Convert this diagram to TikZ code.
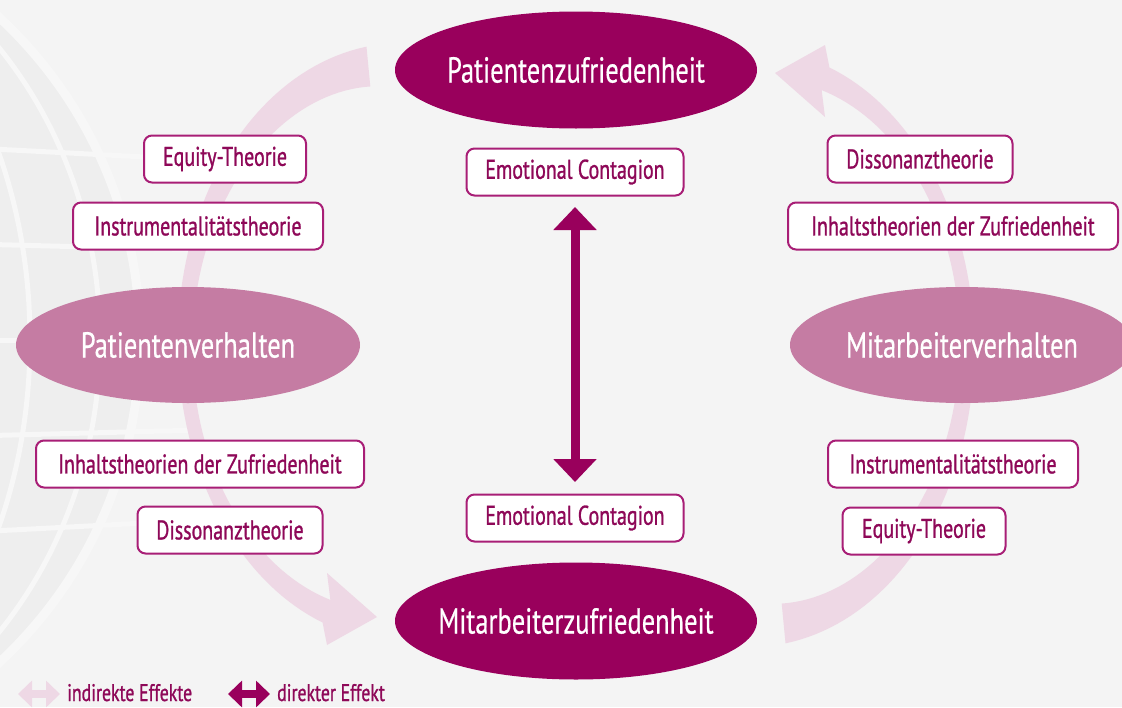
\documentclass[tikz,border=0pt]{standalone}
\usepackage{fontspec}
\setmainfont{PT Sans}[FakeStretch=0.74]
\newfontfamily\boxfont{PT Sans}[FakeStretch=0.74,FakeBold=1.0]
\newfontfamily\ellfont{PT Sans}[FakeStretch=0.735,FakeBold=0.5]
\usetikzlibrary{shapes.geometric,arrows.meta}
\definecolor{bg}{RGB}{244,244,244}
\definecolor{globecell}{RGB}{238,238,238}
\definecolor{globeline}{RGB}{247,247,247}
\definecolor{dark}{RGB}{153,0,92}
\definecolor{mid}{RGB}{197,124,163}
\definecolor{pale}{RGB}{238,216,229}
\definecolor{boxline}{RGB}{168,30,118}
\definecolor{boxtext}{RGB}{142,8,88}
\tikzset{
  theory/.style={draw=boxline, line width=2pt, fill=white, rounded corners=8pt,
    minimum height=47pt, inner sep=0pt, text=boxtext,
    font=\boxfont\fontsize{27}{30}\selectfont},
  mainell/.style={ellipse, fill=dark, text=white, minimum width=362pt,
    minimum height=117pt, inner sep=0pt, font=\ellfont\fontsize{36}{40}\selectfont},
  sideell/.style={ellipse, fill=mid, text=white, minimum width=344pt,
    minimum height=116pt, inner sep=0pt, font=\ellfont\fontsize{36}{40}\selectfont},
  legendtext/.style={text=boxtext, font=\boxfont\fontsize{24}{28}\selectfont,
    anchor=base west, inner sep=0pt},
  direct/.style={draw=dark, line width=9pt,
    {Triangle[width=42pt,length=23pt]}-{Triangle[width=42pt,length=23pt]}},
  legarrow/.style={line width=8pt,
    {Triangle[width=26pt,length=14pt]}-{Triangle[width=26pt,length=14pt]}},
  gline/.style={draw=globeline, line width=5pt}
}
\begin{document}
\begin{tikzpicture}[x=1pt,y=-1pt]
\fill[bg] (0,0) rectangle (1122,707);
\useasboundingbox (0,0) rectangle (1122,707);

% faint globe decoration
\begin{scope}
  \clip (0,0) rectangle (1122,707);
  \fill[globecell] (-300,340) circle (440);
  \draw[globeline, line width=9pt] (-300,340) circle (440);
  \draw[gline] (-300,340) ellipse (330 and 440);
  \draw[gline] (-300,340) ellipse (400 and 440);
  \draw[gline] (-300,340) ellipse (230 and 440);
  \foreach \yy in {-180,-90,0,90,180} {
    \draw[gline] (-300,340) ++(0,\yy) ++(-500,0) .. controls (-300,340+1.15*\yy) .. ++(1000,0);
  }
\end{scope}

% indirect effect arcs (tapering band, point-symmetric pair)
\fill[pale] plot[domain=0:1, samples=80, variable=\t]
   ({390+(205+(20-42*\t+34*\t*\t))*cos(96+156*\t)}, {345-(280+(20-42*\t+34*\t*\t))*sin(96+156*\t)})
   -- (327,645) -- (377,617) -- (327,573)
   -- plot[domain=1:0, samples=80, variable=\t]
   ({390+(205-(20-42*\t+34*\t*\t))*cos(96+156*\t)}, {345-(280-(20-42*\t+34*\t*\t))*sin(96+156*\t)})
   -- cycle;
\begin{scope}[rotate around={180:(576,345)}]
\fill[pale] plot[domain=0:1, samples=80, variable=\t]
   ({390+(205+(20-42*\t+34*\t*\t))*cos(96+156*\t)}, {345-(280+(20-42*\t+34*\t*\t))*sin(96+156*\t)})
   -- (327,645) -- (377,617) -- (327,573)
   -- plot[domain=1:0, samples=80, variable=\t]
   ({390+(205-(20-42*\t+34*\t*\t))*cos(96+156*\t)}, {345-(280-(20-42*\t+34*\t*\t))*sin(96+156*\t)})
   -- cycle;
\end{scope}

% main ellipses
\node[mainell] (pz) at (576,70) {\makebox[0pt]{Patientenzufriedenheit}};
\node[mainell] (mz) at (576,621) {\makebox[0pt]{Mitarbeiterzufriedenheit}};
\node[sideell] (pv) at (188,345) {\makebox[0pt]{Patientenverhalten}};
\node[sideell] (mv) at (962,345) {\makebox[0pt]{Mitarbeiterverhalten}};

% theory boxes
\node[theory, minimum width=162pt] (eql) at (225,159) {Equity-Theorie};
\node[theory, minimum width=250pt] (inl) at (198,226) {Instrumentalitätstheorie};
\node[theory, minimum width=328pt] (ihl) at (200,464) {Inhaltstheorien der Zufriedenheit};
\node[theory, minimum width=185pt] (dil) at (230,530) {Dissonanztheorie};
\node[theory, minimum width=185pt] (dir) at (920,159) {Dissonanztheorie};
\node[theory, minimum width=330pt] (ihr) at (953,226) {Inhaltstheorien der Zufriedenheit};
\node[theory, minimum width=250pt] (inr) at (953,464) {Instrumentalitätstheorie};
\node[theory, minimum width=163pt] (eqr) at (924,531) {Equity-Theorie};
\node[theory, minimum width=217pt] (ect) at (575,172) {Emotional Contagion};
\node[theory, minimum width=217pt] (ecb) at (575,518) {Emotional Contagion};

% direct effect
\draw[direct] ([yshift=-10.5pt]ect.south) -- ([yshift=11.5pt]ecb.north);

% legend
\coordinate (l1a) at (18,694);
\coordinate (l1b) at (60,694);
\coordinate (l2a) at (228,694);
\coordinate (l2b) at (270,694);
\draw[legarrow, draw=pale] (l1a) -- (l1b);
\node[legendtext] (lt1) at (67,701) {indirekte Effekte};
\draw[legarrow, draw=dark] (l2a) -- (l2b);
\node[legendtext] (lt2) at (277,701) {direkter Effekt};
\end{tikzpicture}
\end{document}
